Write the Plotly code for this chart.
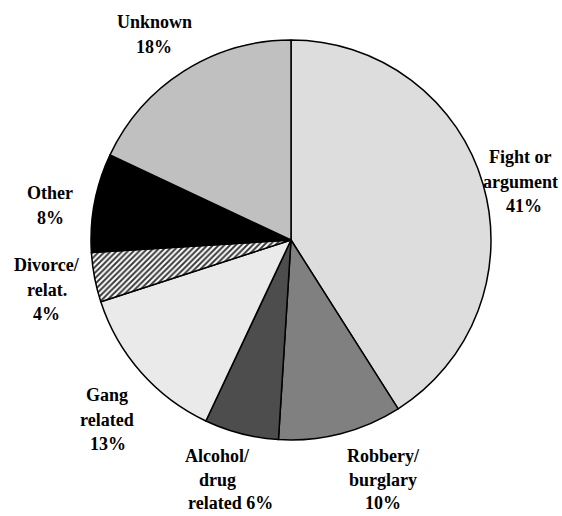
import plotly.graph_objects as go

# ---- data ----
categories = ["Fight or argument", "Robbery/burglary", "Alcohol/drug related",
              "Gang related", "Divorce/relat.", "Other", "Unknown"]
values = [41, 10, 6, 13, 4, 8, 18]
# label lines as printed on the chart (percent appended after)
label_lines = [["Fight or", "argument"], ["Robbery/", "burglary"], ["Alcohol/", "drug", "related"],
               ["Gang", "related"], ["Divorce/", "relat."], ["Other"], ["Unknown"]]
pct_inline = [False, False, True, False, False, False, False]

# ---- styles / layout ----
colors = ["#dddddd", "#808080", "#4d4d4d", "#eaeaea", "#ffffff", "#000000", "#c0c0c0"]
shapes = ["", "", "", "", "/", "", ""]
# centre position (px) of first line of each label, per-line spacing and x offsets
label_pos = [(520, 157), (383, 456), (217, 456), (107, 395), (47, 265), (50, 193), (154, 22)]
line_hs = [24.6, 23.5, 23.5, 24.6, 24.6, 24.6, 24.6]
line_dx = [[0, 0, 4], [0, 0, 0], [0, 1, 13], [0, 0, 1], [0, 0, -1], [0, 0], [0, 0]]
W, H = 562, 516
cx, cy, r = 291, 240, 200

fig = go.Figure(go.Pie(
    labels=categories, values=values, sort=False, direction="clockwise", rotation=0,
    textinfo="none", hoverinfo="label+percent",
    marker=dict(colors=colors, line=dict(color="black", width=1.5),
                pattern=dict(shape=shapes, fgcolor="#3a3a3a", bgcolor="#ffffff",
                             size=4, solidity=0.5)),
    domain=dict(x=[(cx - r) / W, (cx + r) / W], y=[1 - (cy + r) / H, 1 - (cy - r) / H]),
    showlegend=False,
))

annotations = []
for i, (lines, v) in enumerate(zip(label_lines, values)):
    texts = list(lines)
    if pct_inline[i]:
        texts[-1] = f"{texts[-1]} {v}%"
    else:
        texts.append(f"{v}%")
    x0, y0 = label_pos[i]
    for j, t in enumerate(texts):
        dx = line_dx[i][j] if j < len(line_dx[i]) else 0
        annotations.append(dict(
            text=f"<b>{t}</b>", x=(x0 + dx) / W, y=1 - (y0 + j * line_hs[i]) / H,
            xref="paper", yref="paper", showarrow=False, xanchor="center", yanchor="middle",
            font=dict(family="Liberation Serif", size=18, color="black")))

fig.update_layout(width=W, height=H, margin=dict(l=0, r=0, t=0, b=0),
                  paper_bgcolor="white", plot_bgcolor="white", annotations=annotations)
fig.write_html("out.html", config={"displayModeBar": False},
               post_script="document.body.style.margin='0';document.body.style.overflow='hidden';")
